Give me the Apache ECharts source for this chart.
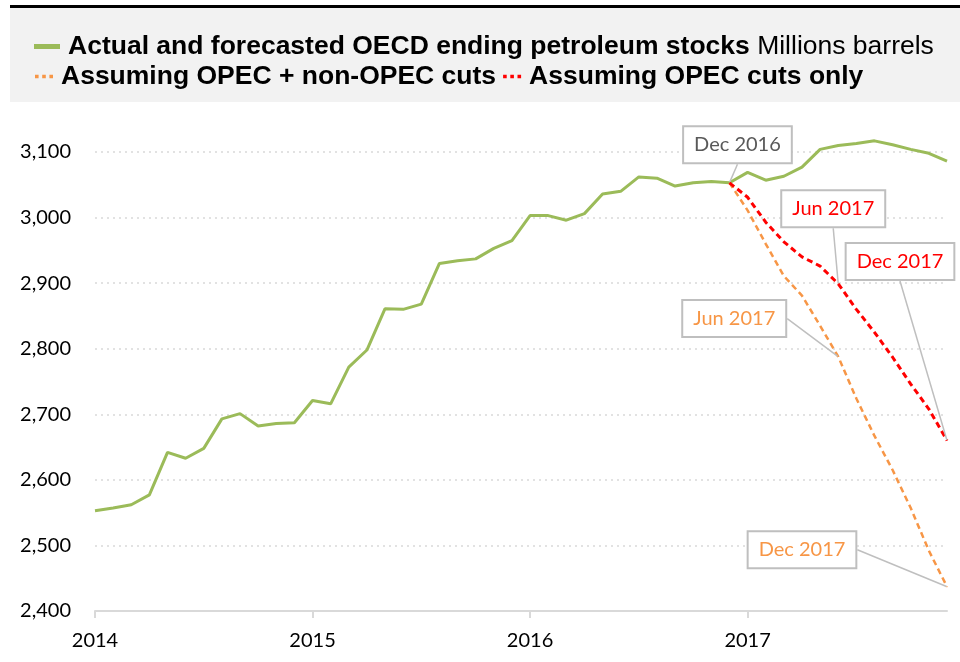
<!DOCTYPE html>
<html lang="en">
<head>
    <meta charset="utf-8"/>
    <title>OECD ending petroleum stocks</title>
    <script src="https://cdn.jsdelivr.net/npm/echarts@6/dist/echarts.min.js"></script>
    <style>
        html, body {margin: 0; padding: 0; background: #fff;}
        #chart {width: 960px; height: 662px;}
    </style>
</head>
<body>
<div id="chart"></div>
<script>
    // monthly points, Jan 2014 .. Dec 2017
    var years = ['2014', '2015', '2016', '2017'];
    var monthNames = ['Jan', 'Feb', 'Mar', 'Apr', 'May', 'Jun', 'Jul', 'Aug', 'Sep', 'Oct', 'Nov', 'Dec'];

    // millions of barrels
    var actualStocks = [
        2553, 2557, 2562, 2577, 2642, 2633, 2648, 2693, 2701, 2682, 2686, 2687,
        2721, 2716, 2772, 2798, 2861, 2860, 2868, 2930, 2934, 2937, 2953, 2965,
        3003, 3003, 2996, 3006, 3036, 3040, 3062, 3060, 3048, 3053, 3055, 3053,
        3069, 3057, 3063, 3077, 3104, 3110, 3113, 3117, 3111, 3104, 3098, 3086
    ];
    // Dec 2016 .. Dec 2017
    var allCutsStocks = [3053, 3011, 2960, 2911, 2881, 2835, 2788, 2724, 2667, 2615, 2557, 2492, 2437];
    var opecCutsStocks = [3053, 3031, 2993, 2963, 2940, 2926, 2899, 2860, 2825, 2787, 2746, 2708, 2660];
    var forecastStart = 35;

    var callouts = [
        {series: 0, index: 35, text: 'Dec 2016', color: '#595959', offset: [8, -38]},
        {series: 1, index: 41, text: 'Jun 2017', color: '#f79646', offset: [-104, -38]},
        {series: 1, index: 47, text: 'Dec 2017', color: '#f79646', offset: [-145, -37]},
        {series: 2, index: 41, text: 'Jun 2017', color: '#ff0000', offset: [-5, -75]},
        {series: 2, index: 47, text: 'Dec 2017', color: '#ff0000', offset: [-47, -179]}
    ];

    var months = [];
    years.forEach(function (y) {
        monthNames.forEach(function (m) { months.push(m + ' ' + y); });
    });

    function padForecast(arr) {
        var out = [];
        for (var i = 0; i < months.length; i++) {
            var k = i - forecastStart;
            out.push(k >= 0 && k < arr.length ? arr[k] : null);
        }
        return out;
    }

    function findCallout(seriesIdx, i) {
        return callouts.filter(function (c) { return c.series === seriesIdx && c.index === i; })[0];
    }

    function withCallouts(values, seriesIdx) {
        return values.map(function (v, i) {
            var c = findCallout(seriesIdx, i);
            if (!c) return v;
            return {
                value: v,
                symbol: 'circle',
                symbolSize: 1,
                label: {
                    show: true,
                    position: 'inside',
                    formatter: c.text,
                    color: c.color,
                    fontFamily: 'Lato',
                    fontSize: 20,
                    backgroundColor: '#fff',
                    borderColor: '#bfbfbf',
                    borderWidth: 2,
                    padding: [8, 10, 7, 10]
                },
                labelLine: {
                    show: true,
                    lineStyle: {color: '#bfbfbf', width: 1.5}
                }
            };
        });
    }

    function calloutLayout(params) {
        var c = findCallout(params.seriesIndex, params.dataIndex);
        if (!c) return {};
        return {dx: c.offset[0], dy: c.offset[1]};
    }

    var chart = echarts.init(document.getElementById('chart'));

    var font = 'Lato';
    var legendText = {
        fontFamily: 'Liberation Sans',
        fontSize: 26.5,
        fontWeight: 'bold',
        color: '#000'
    };
    var dots = 'path://M0,0h4v4h-4z M8,0h4v4h-4z M16,0h4v4h-4z';

    var option = {
        animation: false,
        graphic: [
            {type: 'rect', shape: {x: 10, y: 8, width: 950, height: 94}, style: {fill: '#f2f2f2'}, silent: true, z: -10},
            {type: 'rect', shape: {x: 10, y: 5, width: 950, height: 3}, style: {fill: '#000'}, silent: true, z: -10}
        ],
        legend: [
            {
                left: 29,
                top: 28,
                itemWidth: 26,
                itemHeight: 5,
                itemGap: 8,
                data: [{name: 'Actual and forecasted OECD ending petroleum stocks', icon: 'rect'}],
                textStyle: {
                    padding: [0, 0, 0, 3],
                    rich: {
                        b: legendText,
                        n: {fontFamily: 'Liberation Sans', fontSize: 26.5, color: '#000'}
                    }
                },
                formatter: function (name) { return '{b|' + name + '}{n| Millions barrels}'; }
            },
            {
                left: 30,
                top: 58,
                itemWidth: 18,
                itemHeight: 4,
                itemGap: 7,
                data: [
                    {name: 'Assuming OPEC + non-OPEC cuts', icon: dots},
                    {name: 'Assuming OPEC cuts only', icon: dots}
                ],
                textStyle: Object.assign({padding: [0, 0, 0, 3]}, legendText)
            }
        ],
        grid: {left: 95, right: 13, top: 152, bottom: 51, containLabel: false},
        xAxis: {
            type: 'category',
            data: months,
            boundaryGap: false,
            axisLine: {lineStyle: {color: '#d9d9d9', width: 2}},
            axisTick: {interval: 11, length: 7, lineStyle: {color: '#d9d9d9', width: 2}},
            axisLabel: {
                interval: 11,
                margin: 20,
                color: '#000',
                fontFamily: font,
                fontSize: 20,
                formatter: function (v) { return v.split(' ')[1]; }
            },
            splitLine: {show: false}
        },
        yAxis: {
            type: 'value',
            min: 2400,
            max: 3100,
            interval: 100,
            axisLine: {show: false},
            axisTick: {show: false},
            axisLabel: {
                margin: 24,
                color: '#000',
                fontFamily: font,
                fontSize: 20,
                formatter: function (v) { return v.toLocaleString('en-US'); }
            },
            splitLine: {lineStyle: {color: '#d9d9d9', type: [2, 4], width: 1.5}}
        },
        series: [
            {
                name: 'Actual and forecasted OECD ending petroleum stocks',
                type: 'line',
                data: withCallouts(actualStocks, 0),
                symbol: 'none',
                showAllSymbol: true,
                clip: false,
                z: 3,
                labelLayout: calloutLayout,
                lineStyle: {color: '#9bbb59', width: 3},
                itemStyle: {color: '#9bbb59'}
            },
            {
                name: 'Assuming OPEC + non-OPEC cuts',
                type: 'line',
                data: withCallouts(padForecast(allCutsStocks), 1),
                symbol: 'none',
                showAllSymbol: true,
                clip: false,
                z: 4,
                labelLayout: calloutLayout,
                lineStyle: {color: '#f79646', width: 2.5, type: [6, 4]},
                itemStyle: {color: '#f79646'}
            },
            {
                name: 'Assuming OPEC cuts only',
                type: 'line',
                data: withCallouts(padForecast(opecCutsStocks), 2),
                symbol: 'none',
                showAllSymbol: true,
                clip: false,
                z: 5,
                labelLayout: calloutLayout,
                lineStyle: {color: '#ff0000', width: 3, type: [6, 4]},
                itemStyle: {color: '#ff0000'}
            }
        ]
    };

    chart.setOption(option);
</script>
</body>
</html>
